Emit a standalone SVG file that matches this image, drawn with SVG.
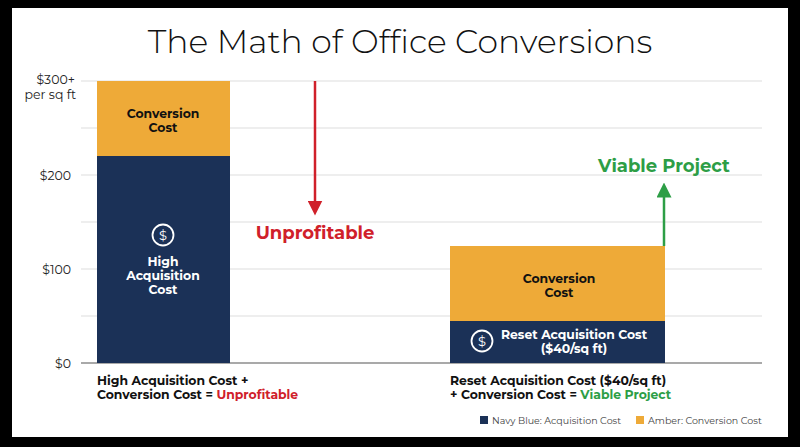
<svg xmlns="http://www.w3.org/2000/svg" width="800" height="447" viewBox="0 0 800 447">
<style>
text{font-family:"Montserrat","Noto Sans","Liberation Sans",sans-serif}
.b{font-weight:700;font-size:12.4px}
.ax{font-size:12.5px;fill:#222;text-anchor:end}
.g{stroke:#ddd;stroke-width:1}
.navy{fill:#1b3157}.amb{fill:#eeaa38}
</style>
<defs>
<marker id="ar" markerWidth="6" markerHeight="6" refX="3" refY="3" orient="auto" markerUnits="strokeWidth"><path d="M0,0L6,3L0,6z" fill="#d0202a"/></marker>
<marker id="ag" markerWidth="6" markerHeight="6" refX="3" refY="3" orient="auto" markerUnits="strokeWidth"><path d="M0,0L6,3L0,6z" fill="#2d9e46"/></marker>
</defs>
<rect width="800" height="447" fill="#000"/>
<rect x="12" y="8" width="776" height="429" fill="#fff"/>
<text x="400" y="53" text-anchor="middle" font-size="33" font-weight="300" fill="#111">The Math of Office Conversions</text>
<g id="grid">
<line class="g" x1="81" y1="81" x2="762" y2="81"/><line class="g" x1="81" y1="128" x2="762" y2="128"/>
<line class="g" x1="81" y1="175" x2="762" y2="175"/><line class="g" x1="81" y1="222" x2="762" y2="222"/>
<line class="g" x1="81" y1="269" x2="762" y2="269"/><line class="g" x1="81" y1="316" x2="762" y2="316"/>
<line x1="81" y1="363" x2="762" y2="363" stroke="#555" stroke-width="1.2"/>
</g>
<g id="axis">
<text class="ax" x="75" y="84">$300+</text>
<text class="ax" x="76" y="99" font-size="9.5">per sq ft</text>
<text class="ax" x="71" y="180">$200</text>
<text class="ax" x="71" y="274">$100</text>
<text class="ax" x="71" y="368">$0</text>
</g>
<g id="bar1">
<rect class="amb" x="97" y="81" width="133" height="75"/>
<rect class="navy" x="97" y="156" width="133" height="207"/>
<text class="b" x="163" y="118" text-anchor="middle" fill="#111">Conversion</text>
<text class="b" x="163" y="132" text-anchor="middle" fill="#111">Cost</text>
<circle cx="163" cy="235" r="10.5" fill="none" stroke="#fff" stroke-width="1.8"/>
<text x="163" y="240" text-anchor="middle" font-size="13" fill="#fff">$</text>
<text class="b" x="163" y="266" text-anchor="middle" fill="#fff">High</text>
<text class="b" x="163" y="280" text-anchor="middle" fill="#fff">Acquisition</text>
<text class="b" x="163" y="294" text-anchor="middle" fill="#fff">Cost</text>
</g>
<g id="bar2">
<rect class="amb" x="450" y="246" width="215" height="75"/>
<rect class="navy" x="450" y="321" width="215" height="42"/>
<text class="b" x="559" y="283" text-anchor="middle" fill="#111">Conversion</text>
<text class="b" x="559" y="297" text-anchor="middle" fill="#111">Cost</text>
<circle cx="482" cy="341" r="10.5" fill="none" stroke="#fff" stroke-width="1.8"/>
<text x="482" y="346" text-anchor="middle" font-size="13" fill="#fff">$</text>
<text class="b" x="574" y="339" text-anchor="middle" fill="#fff">Reset Acquisition Cost</text>
<text class="b" x="574" y="353" text-anchor="middle" fill="#fff">($40/sq ft)</text>
</g>
<g id="connectors">
<line x1="315" y1="81" x2="315" y2="208" stroke="#d0202a" stroke-width="2.5" marker-end="url(#ar)"/>
<line x1="664" y1="246" x2="664" y2="190" stroke="#2d9e46" stroke-width="2.5" marker-end="url(#ag)"/>
</g>
<text x="315" y="239" text-anchor="middle" font-size="18" font-weight="700" fill="#d0202a">Unprofitable</text>
<text x="664" y="172" text-anchor="middle" font-size="18" font-weight="700" fill="#2d9e46">Viable Project</text>
<g id="captions">
<text class="b" x="97" y="385" fill="#111">High Acquisition Cost +</text>
<text class="b" x="97" y="399" fill="#111">Conversion Cost = <tspan fill="#d0202a">Unprofitable</tspan></text>
<text class="b" x="450" y="385" fill="#111">Reset Acquisition Cost ($40/sq ft)</text>
<text class="b" x="450" y="399" fill="#111">+ Conversion Cost = <tspan fill="#2d9e46">Viable Project</tspan></text>
</g>
<g id="legend">
<rect class="navy" x="480" y="416" width="8" height="8"/>
<text x="492" y="424" font-size="9.5" fill="#444">Navy Blue: Acquisition Cost</text>
<rect class="amb" x="636" y="416" width="8" height="8"/>
<text x="648" y="424" font-size="9.5" fill="#444">Amber: Conversion Cost</text>
</g>
</svg>
